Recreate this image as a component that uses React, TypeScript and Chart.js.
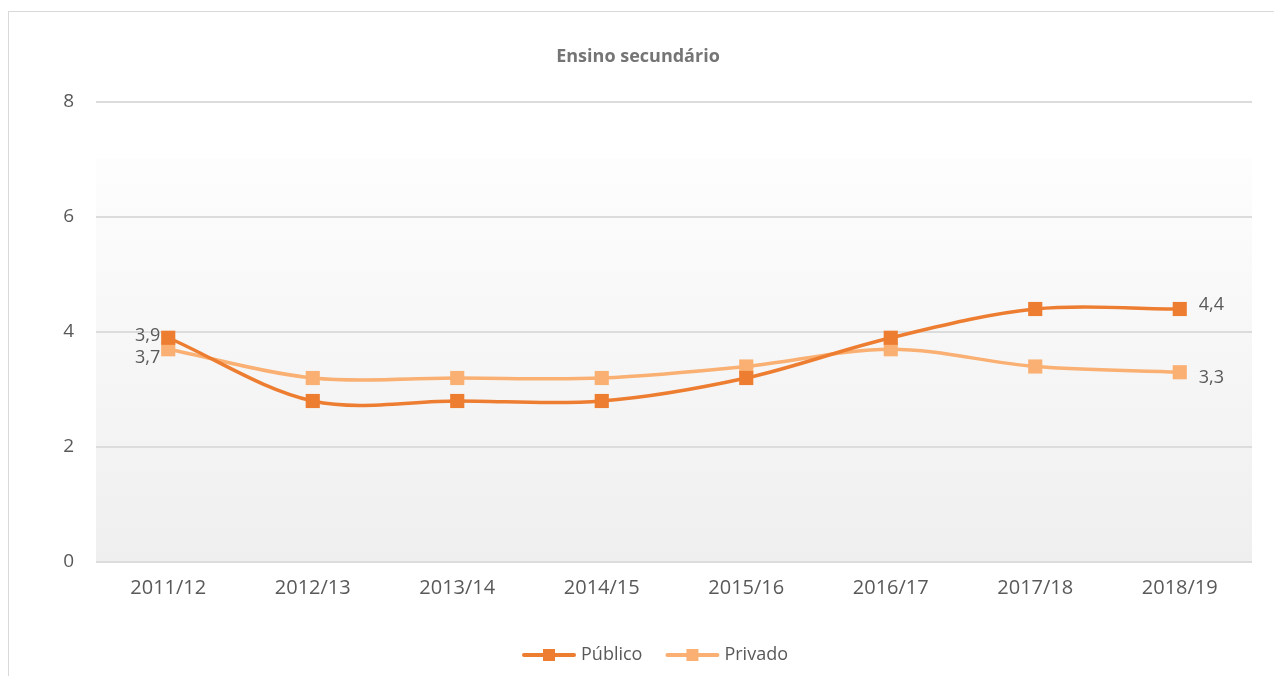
import React, { useEffect, useRef } from "react";
import { Chart, registerables } from "chart.js";

Chart.register(...registerables);

const chartTitle = "Ensino secundário";
const categories = ["2011/12", "2012/13", "2013/14", "2014/15", "2015/16", "2016/17", "2017/18", "2018/19"];
const seriesNames = ["Público", "Privado"];
const publico = [3.9, 2.8, 2.8, 2.8, 3.2, 3.9, 4.4, 4.4];
const privado = [3.7, 3.2, 3.2, 3.2, 3.4, 3.7, 3.4, 3.3];
const seriesColors = ["#ED7D31", "#F9B072"];
const yMin = 0;
const yMax = 8;
const yStep = 2;

const FONT = '"Open Sans", "Noto Sans", sans-serif';
const TEXT = "#595959";

const fmt = (v: number) => v.toFixed(1).replace(".", ",");

const backgroundPlugin = {
  id: "plotBg",
  beforeDraw(chart: any) {
    const { ctx, chartArea } = chart;
    if (!chartArea) return;
    const g = ctx.createLinearGradient(0, chartArea.top, 0, chartArea.bottom);
    g.addColorStop(0, "#ffffff");
    g.addColorStop(0.12, "#ffffff");
    g.addColorStop(0.125, "#fdfdfd");
    g.addColorStop(1, "#efefef");
    ctx.save();
    ctx.fillStyle = g;
    ctx.fillRect(chartArea.left, chartArea.top, chartArea.right - chartArea.left, chartArea.bottom - chartArea.top);
    ctx.restore();
  },
};

const labelsPlugin = {
  id: "endLabels",
  afterDatasetsDraw(chart: any) {
    const { ctx } = chart;
    ctx.save();
    ctx.font = `18px ${FONT}`;
    ctx.fillStyle = TEXT;
    ctx.textBaseline = "middle";
    chart.data.datasets.forEach((ds: any, i: number) => {
      const meta = chart.getDatasetMeta(i);
      const pts = meta.data;
      if (!pts.length) return;
      const first = pts[0];
      const last = pts[pts.length - 1];
      ctx.textAlign = "right";
      ctx.fillText(fmt(ds.data[0]), first.x - 8, first.y + (i === 0 ? -2 : 9));
      ctx.textAlign = "left";
      ctx.fillText(fmt(ds.data[ds.data.length - 1]), last.x + 19, last.y + (i === 0 ? -4 : 6));
    });
    ctx.restore();
  },
};

const titleLegendPlugin = {
  id: "titleLegend",
  afterDraw(chart: any) {
    const { ctx } = chart;
    ctx.save();
    // title
    ctx.font = `bold 18px ${FONT}`;
    ctx.fillStyle = "#757575";
    ctx.textAlign = "center";
    ctx.textBaseline = "middle";
    ctx.fillText(chartTitle, 629, 45);

    // legend
    ctx.font = `18px ${FONT}`;
    const lineW = 54;
    const gapText = 5;
    const gapItem = 23;
    const widths = seriesNames.map((n) => ctx.measureText(n).width);
    const total = widths.reduce((a, w) => a + lineW + gapText + w, 0) + gapItem * (seriesNames.length - 1);
    let x = 646 - total / 2;
    const y = 643;
    seriesNames.forEach((name, i) => {
      ctx.strokeStyle = seriesColors[i];
      ctx.lineWidth = 4;
      ctx.lineCap = "round";
      ctx.beginPath();
      ctx.moveTo(x + 2, y);
      ctx.lineTo(x + lineW - 2, y);
      ctx.stroke();
      ctx.fillStyle = seriesColors[i];
      ctx.fillRect(x + lineW / 2 - 6, y - 6, 12, 12);
      ctx.fillStyle = TEXT;
      ctx.textAlign = "left";
      ctx.fillText(name, x + lineW + gapText, y);
      x += lineW + gapText + widths[i] + gapItem;
    });
    ctx.restore();
  },
};

export default function App() {
  const ref = useRef<HTMLCanvasElement>(null);

  useEffect(() => {
    const chart = new Chart(ref.current as HTMLCanvasElement, {
      type: "line",
      data: {
        labels: categories,
        datasets: [
          {
            label: seriesNames[0],
            data: publico,
            borderColor: seriesColors[0],
            backgroundColor: seriesColors[0],
            borderWidth: 3.5,
            pointStyle: "rect",
            pointRadius: 10,
            pointBorderWidth: 0,
            pointBackgroundColor: seriesColors[0],
            tension: 0.33,
          },
          {
            label: seriesNames[1],
            data: privado,
            borderColor: seriesColors[1],
            backgroundColor: seriesColors[1],
            borderWidth: 3.5,
            pointStyle: "rect",
            pointRadius: 10,
            pointBorderWidth: 0,
            pointBackgroundColor: seriesColors[1],
            tension: 0.33,
          },
        ],
      },
      options: {
        animation: false,
        responsive: true,
        maintainAspectRatio: false,
        layout: { padding: { top: 90, right: 30, left: 0, bottom: 0 } },
        plugins: {
          legend: { display: false },
          title: { display: false },
          tooltip: { enabled: false },
        },
        scales: {
          x: {
            offset: true,
            grid: { display: false, drawTicks: false },
            border: { display: false },
            ticks: { color: TEXT, font: { family: FONT, size: 20 }, padding: 14, maxRotation: 0 },
            afterFit: (s: any) => {
              s.height = 122;
            },
          },
          y: {
            min: yMin,
            max: yMax,
            grid: { color: "#dcdcdc", lineWidth: 2, drawTicks: false },
            border: { display: false },
            ticks: { stepSize: yStep, color: TEXT, font: { family: FONT, size: 19 }, padding: 22 },
            afterFit: (s: any) => {
              s.width = 87;
            },
          },
        },
      },
      plugins: [backgroundPlugin, labelsPlugin, titleLegendPlugin],
    });
    return () => chart.destroy();
  }, []);

  return (
    <div style={{ position: "relative", width: 1274, height: 668, overflow: "hidden" }}>
      <div
        style={{
          position: "absolute",
          left: 0,
          top: 3,
          width: 1320,
          height: 720,
          border: "1px solid #d9d9d9",
          boxSizing: "border-box",
          background: "#fff",
        }}
      >
        <div style={{ position: "absolute", left: 0, top: 0, width: 1273, height: 672 }}>
          <canvas ref={ref} />
        </div>
      </div>
    </div>
  );
}
